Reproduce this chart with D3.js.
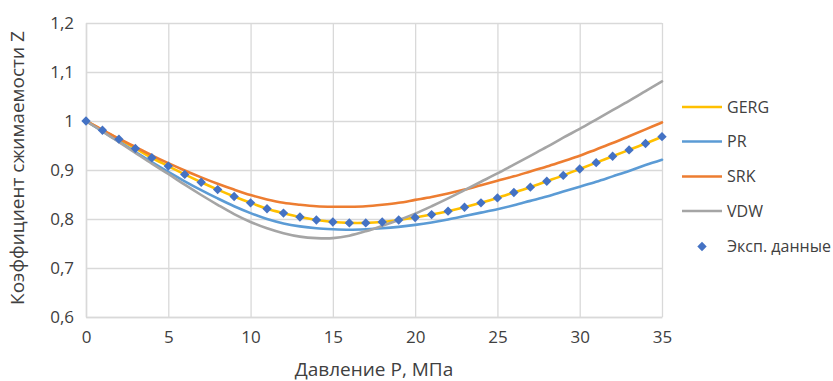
<!DOCTYPE html>
<html>
<head>
<meta charset="utf-8">
<script src="https://cdn.jsdelivr.net/npm/d3@7"></script>
<style>
  html, body { margin: 0; padding: 0; background: #fff; }
  svg { display: block; }
  text { font-family: "Open Sans", "Noto Sans", sans-serif; fill: #404040; }
</style>
</head>
<body>
<svg id="chart" width="833" height="381"></svg>
<script>
// Pressure, MPa
const pressure = d3.range(0, 36);

// Compressibility factor Z by equation of state
const gerg = [1.000, 0.981, 0.963, 0.944, 0.925, 0.908, 0.891, 0.875, 0.860, 0.846,
              0.833, 0.821, 0.812, 0.804, 0.798, 0.794, 0.792, 0.792, 0.794, 0.798,
              0.803, 0.809, 0.816, 0.824, 0.833, 0.843, 0.854, 0.865, 0.877, 0.889,
              0.902, 0.915, 0.928, 0.941, 0.954, 0.968];
const pr   = [1.000, 0.979, 0.958, 0.937, 0.916, 0.896, 0.877, 0.859, 0.842, 0.826,
              0.812, 0.800, 0.791, 0.785, 0.781, 0.779, 0.778, 0.779, 0.781, 0.784,
              0.788, 0.793, 0.799, 0.806, 0.813, 0.820, 0.828, 0.837, 0.846, 0.856,
              0.866, 0.876, 0.887, 0.898, 0.910, 0.921];
const srk  = [1.000, 0.982, 0.964, 0.947, 0.930, 0.914, 0.899, 0.885, 0.872, 0.860,
              0.849, 0.840, 0.833, 0.829, 0.826, 0.825, 0.825, 0.826, 0.829, 0.833,
              0.839, 0.845, 0.852, 0.860, 0.869, 0.878, 0.887, 0.897, 0.907, 0.918,
              0.929, 0.942, 0.955, 0.969, 0.983, 0.997];
const vdw  = [1.000, 0.979, 0.957, 0.935, 0.913, 0.892, 0.870, 0.849, 0.829, 0.810,
              0.794, 0.781, 0.771, 0.764, 0.761, 0.761, 0.766, 0.775, 0.786, 0.798,
              0.811, 0.826, 0.842, 0.859, 0.876, 0.893, 0.911, 0.929, 0.947, 0.966,
              0.984, 1.003, 1.022, 1.041, 1.061, 1.081];
// Experimental points
const expData = [1.000, 0.981, 0.963, 0.944, 0.925, 0.908, 0.891, 0.875, 0.860, 0.846,
                 0.833, 0.821, 0.812, 0.804, 0.798, 0.794, 0.792, 0.792, 0.794, 0.798,
                 0.803, 0.809, 0.816, 0.824, 0.833, 0.843, 0.854, 0.865, 0.877, 0.889,
                 0.902, 0.915, 0.928, 0.941, 0.954, 0.968];

const xTicks = [0, 5, 10, 15, 20, 25, 30, 35];
const yTicks = [0.6, 0.7, 0.8, 0.9, 1.0, 1.1, 1.2];

const lineSeries = [
  { name: "GERG", values: gerg, color: "#FFC000" },
  { name: "PR",   values: pr,   color: "#5B9BD5" },
  { name: "SRK",  values: srk,  color: "#ED7D31" },
  { name: "VDW",  values: vdw,  color: "#A5A5A5" }
];
const expName = "Эксп. данные";
const expColor = "#4472C4";

const svg = d3.select("#chart");
const plot = { left: 86, right: 662, top: 23, bottom: 317 };

const x = d3.scaleLinear().domain([0, 35]).range([plot.left, plot.right]);
const y = d3.scaleLinear().domain([0.6, 1.2]).range([plot.bottom, plot.top]);

const fmt = v => (Math.round(v * 10) / 10).toString().replace(".", ",");

// Gridlines
svg.append("g")
  .attr("transform", `translate(0,${plot.bottom})`)
  .call(d3.axisBottom(x).tickValues(xTicks).tickSize(-(plot.bottom - plot.top)).tickFormat(""))
  .call(g => g.select(".domain").remove())
  .call(g => g.selectAll("line").attr("stroke", "#d9d9d9").attr("stroke-width", 1.3));
svg.append("g")
  .attr("transform", `translate(${plot.left},0)`)
  .call(d3.axisLeft(y).tickValues(yTicks).tickSize(-(plot.right - plot.left)).tickFormat(""))
  .call(g => g.select(".domain").remove())
  .call(g => g.selectAll("line").attr("stroke", "#d9d9d9").attr("stroke-width", 1.3));

// Tick labels
const xAxis = svg.append("g")
  .attr("transform", `translate(0,${plot.bottom})`)
  .call(d3.axisBottom(x).tickValues(xTicks).tickSize(0).tickPadding(14).tickFormat(d => d));
xAxis.select(".domain").attr("stroke", "#d9d9d9").attr("stroke-width", 1.5);
xAxis.selectAll("text").style("font-size", "17px").attr("fill", "#404040")
  .style("font-family", "'Open Sans', sans-serif");

const yAxis = svg.append("g")
  .attr("transform", `translate(${plot.left},0)`)
  .call(d3.axisLeft(y).tickValues(yTicks).tickSize(0).tickPadding(12).tickFormat(fmt));
yAxis.select(".domain").attr("stroke", "#d9d9d9").attr("stroke-width", 1.5);
yAxis.selectAll("text").style("font-size", "17px").attr("fill", "#404040")
  .style("font-family", "'Open Sans', sans-serif");

// Model curves
const line = d3.line()
  .x((d, i) => x(pressure[i]))
  .y(d => y(d))
  .curve(d3.curveCatmullRom.alpha(0.5));

svg.append("g").selectAll("path")
  .data(lineSeries)
  .join("path")
  .attr("d", s => line(s.values))
  .attr("fill", "none")
  .attr("stroke", s => s.color)
  .attr("stroke-width", 2.6)
  .attr("stroke-linejoin", "round")
  .attr("stroke-linecap", "round");

// Experimental diamonds
svg.append("g").selectAll("path")
  .data(expData)
  .join("path")
  .attr("transform", (d, i) => `translate(${x(pressure[i])},${y(d)}) rotate(45)`)
  .attr("d", d3.symbol().type(d3.symbolSquare).size(44))
  .attr("fill", expColor);

// Axis titles
svg.append("text")
  .attr("x", (plot.left + plot.right) / 2)
  .attr("y", 376)
  .attr("text-anchor", "middle")
  .style("font-size", "19px")
  .text("Давление P, МПа");

svg.append("text")
  .attr("transform", `translate(24,${(plot.top + plot.bottom) / 2 - 2}) rotate(-90)`)
  .attr("text-anchor", "middle")
  .style("font-size", "19px")
  .text("Коэффициент сжимаемости Z");

// Legend
const legend = svg.append("g");
const legendY = [107, 141.5, 176.5, 211];
lineSeries.forEach((s, i) => {
  legend.append("line")
    .attr("x1", 682).attr("x2", 722)
    .attr("y1", legendY[i]).attr("y2", legendY[i])
    .attr("stroke", s.color).attr("stroke-width", 2.6);
  legend.append("text")
    .attr("x", 727).attr("y", legendY[i])
    .attr("dy", "0.35em")
    .style("font-size", "16px")
    .text(s.name);
});
legend.append("path")
  .attr("transform", "translate(702,246.5) rotate(45)")
  .attr("d", d3.symbol().type(d3.symbolSquare).size(44))
  .attr("fill", expColor);
legend.append("text")
  .attr("x", 727).attr("y", 246.5)
  .attr("dy", "0.35em")
  .style("font-size", "16px")
  .text(expName);
</script>
</body>
</html>
